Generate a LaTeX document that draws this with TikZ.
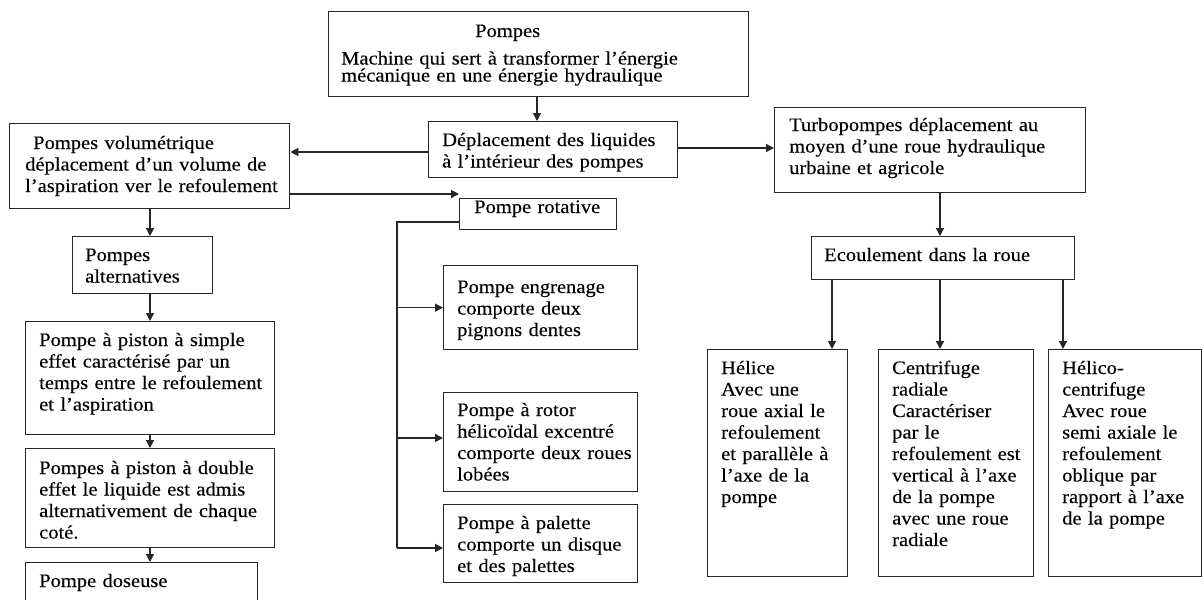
\documentclass[tikz,border=0pt]{standalone}
\usepackage{fontspec}
\setmainfont{Liberation Serif}[FakeStretch=1.08,FakeBold=0.25]
\usetikzlibrary{arrows.meta}
\begin{document}
\begin{tikzpicture}[x=1pt,y=-1pt,
  box/.style={draw=black!85, line width=1.3pt, rectangle, inner sep=0pt, anchor=north west},
  txt/.style={anchor=base west, inner sep=0pt, align=left, text width=420pt, font=\fontsize{19}{21.5}\selectfont},
  arr/.style={line width=1.3pt, draw=black!85, -{Triangle[length=8pt,width=8pt]}},
  con/.style={line width=1.3pt, draw=black!85}]
\useasboundingbox (0,0) rectangle (1203,600);
% boxes
\node[box, minimum width=420pt, minimum height=85pt] (pompes) at (328,11) {};
\node[box, minimum width=249pt, minimum height=56pt] (dep) at (428,121) {};
\node[box, minimum width=280pt, minimum height=85pt] (vol) at (9,123) {};
\node[box, minimum width=140pt, minimum height=57pt] (alt) at (72,236) {};
\node[box, minimum width=249pt, minimum height=113pt] (simple) at (25,321) {};
\node[box, minimum width=249pt, minimum height=99pt] (double) at (25,448) {};
\node[box, minimum width=232pt, minimum height=60pt] (dose) at (25,562) {};
\node[box, minimum width=157pt, minimum height=31pt] (rot) at (459,198) {};
\node[box, minimum width=194pt, minimum height=84pt] (eng) at (443,265) {};
\node[box, minimum width=194pt, minimum height=99pt] (rotor) at (443,392) {};
\node[box, minimum width=194pt, minimum height=78pt] (pal) at (443,504) {};
\node[box, minimum width=311pt, minimum height=85pt] (turbo) at (774,107) {};
\node[box, minimum width=263pt, minimum height=43pt] (ecoul) at (811,236) {};
\node[box, minimum width=140pt, minimum height=227pt] (helice) at (707,349) {};
\node[box, minimum width=155pt, minimum height=227pt] (centri) at (878,349) {};
\node[box, minimum width=153pt, minimum height=227pt] (helico) at (1048,349) {};
% texts
\node[txt] (tpompes) at (341,37) {\hspace*{134pt}Pompes\\[6pt]Machine qui sert à transformer l’énergie\\[-4.5pt]mécanique en une énergie hydraulique};
\node[txt] (tdep) at (442,146) {Déplacement des liquides\\à l’intérieur des pompes};
\node[txt] (tvol) at (25,149) {\hspace*{8pt}Pompes volumétrique\\déplacement d’un volume de\\l’aspiration ver le refoulement};
\node[txt] (talt) at (85,261) {Pompes\\alternatives};
\node[txt] (tsimple) at (39,346) {Pompe à piston à simple\\effet caractérisé par un\\temps entre le refoulement\\et l’aspiration};
\node[txt] (tdouble) at (39,474) {Pompes à piston à double\\effet le liquide est admis\\alternativement de chaque\\coté.};
\node[txt] (tdose) at (39,587) {Pompe doseuse};
\node[txt] (trot) at (474,213) {Pompe rotative};
\node[txt] (teng) at (457,293) {Pompe engrenage\\comporte deux\\pignons dentes};
\node[txt] (trotor) at (457,416) {Pompe à rotor\\hélicoïdal excentré\\comporte deux roues\\lobées};
\node[txt] (tpal) at (457,529) {Pompe à palette\\comporte un disque\\et des palettes};
\node[txt] (tturbo) at (789,131) {Turbopompes déplacement au\\moyen d’une roue hydraulique\\urbaine et agricole};
\node[txt] (tecoul) at (824,261) {Ecoulement dans la roue};
\node[txt] (thelice) at (721,374) {Hélice\\Avec une\\roue axial le\\refoulement\\et parallèle à\\l’axe de la\\pompe};
\node[txt] (tcentri) at (892,374) {Centrifuge\\radiale\\Caractériser\\par le\\refoulement est\\vertical à l’axe\\de la pompe\\avec une roue\\radiale};
\node[txt] (thelico) at (1062,374) {Hélico-\\centrifuge\\Avec roue\\semi axiale le\\refoulement\\oblique par\\rapport à l’axe\\de la pompe};
% connectors
\draw[arr] ([xshift=209pt]pompes.south west) -- ([xshift=109pt]dep.north west);
\draw[arr] ([yshift=-27pt]dep.north east) -- ([yshift=-41pt]turbo.north west);
\draw[arr] ([yshift=-31pt]dep.north west) -- ([yshift=-29pt]vol.north east);
\draw[arr] ([yshift=-71pt]vol.north east) -- ([yshift=4pt]rot.north west);
\coordinate (bt) at (397,222);
\coordinate (bb) at (397,548);
\coordinate (rotorin) at ([yshift=-46pt]rotor.north west);
\draw[con] ([yshift=-24pt]rot.north west) -- (bt) -- (bb);
\draw[arr] (bt |- eng.west) -- (eng.west);
\draw[arr] (bt |- rotorin) -- (rotorin);
\draw[arr] (bb) -- (bb -| pal.west);
\draw[arr] ([xshift=141pt]vol.south west) -- ([xshift=78pt]alt.north west);
\draw[arr] ([xshift=78pt]alt.south west) -- ([xshift=125pt]simple.north west);
\draw[arr] ([xshift=125pt]simple.south west) -- ([xshift=125pt]double.north west);
\draw[arr] ([xshift=125pt]double.south west) -- ([xshift=125pt]dose.north west);
\draw[arr] ([xshift=166pt]turbo.south west) -- ([xshift=129pt]ecoul.north west);
\draw[arr] ([xshift=21pt]ecoul.south west) -- ([xshift=125pt]helice.north west);
\draw[arr] ([xshift=129pt]ecoul.south west) -- ([xshift=62pt]centri.north west);
\draw[arr] ([xshift=252pt]ecoul.south west) -- ([xshift=15pt]helico.north west);
\end{tikzpicture}
\end{document}
